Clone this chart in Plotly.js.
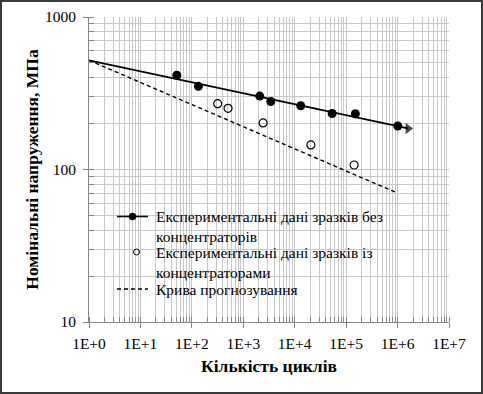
<!DOCTYPE html>
<html>
<head>
<meta charset="utf-8">
<script src="https://cdn.plot.ly/plotly-3.0.1.min.js"></script>
<style>
html,body{margin:0;padding:0;background:#fff;}
#chart{width:479px;height:390px;border:2px solid #3a3a3a;}
</style>
</head>
<body>
<div id="chart"></div>
<script>
// Data
const cyclesPlain = [51, 134, 2090, 3430, 13100, 53500, 151000, 1010000];
const stressPlain = [415, 351, 303, 279, 262, 233, 232, 193];
const cyclesNotch = [318, 506, 2430, 20600, 143000];
const stressNotch = [270, 252, 202, 145, 107];
const fitCycles = [1, 1600000];
const fitStress = [520, 186];
const predCycles = [1, 1000000];
const predStress = [520, 70];
const xTickVals = [1, 10, 100, 1000, 10000, 100000, 1000000, 10000000];
const xTickText = ['1E+0','1E+1','1E+2','1E+3','1E+4','1E+5','1E+6','1E+7'];
const yTickVals = [10, 100, 1000];
const yTickText = ['10', '100', '1000'];
const legendNames = [
  'Експериментальні дані зразків без<br>концентраторів',
  'Експериментальні дані зразків із<br>концентраторами',
  'Крива прогнозування'
];
const xTitle = 'Кількість циклів';
const yTitle = 'Номінальні напруження, МПа';

// minor tick positions (1..9 within each decade)
function minorVals(lo, hi) {
  const v = [];
  for (let e = lo; e < hi; e++) {
    for (let d = 1; d <= 9; d++) v.push(d * Math.pow(10, e));
  }
  v.push(Math.pow(10, hi));
  return v;
}

const FONT = '"Liberation Serif", "Times New Roman", serif';

// page-pixel -> paper helpers for the legend box (plot area 89..449 x 17..322)
const PX0 = 89, PW = 360, PY1 = 322, PH = 305;
const px = X => (X - PX0) / PW;
const py = Y => (PY1 - Y) / PH;

const traces = [
  {x: fitCycles, y: fitStress, mode: 'lines+markers', name: 'fit',
   line: {color: '#000', width: 1.6},
   marker: {symbol: ['circle', 'triangle-right'], size: [0, 10], color: '#000', line: {width: 0}},
   hoverinfo: 'skip'},
  {x: predCycles, y: predStress, mode: 'lines', name: legendNames[2],
   line: {color: '#000', width: 1.4, dash: '4px,3px'}, hoverinfo: 'skip'},
  {x: cyclesPlain, y: stressPlain, mode: 'markers', name: legendNames[0],
   marker: {symbol: 'circle', size: 9, color: '#000'}},
  {x: cyclesNotch, y: stressNotch, mode: 'markers', name: legendNames[1],
   marker: {symbol: 'circle-open', size: 8, color: '#000', line: {width: 1.2}}}
];

const axisCommon = {
  type: 'log', tickmode: 'array',
  showgrid: true, gridcolor: '#c4c4c4', gridwidth: 1,
  showline: true, linecolor: '#858585', linewidth: 1,
  ticks: 'outside', ticklen: 5, tickcolor: '#858585', tickwidth: 1,
  zeroline: false,
  tickfont: {family: FONT, size: 15.5, color: '#000'}
};

const legFont = {family: FONT, size: 15.5, color: '#000'};
const rowY = [216.5, 252, 289];

const layout = {
  width: 479, height: 390,
  margin: {l: 87, r: 32, t: 15, b: 70},
  paper_bgcolor: '#fff', plot_bgcolor: '#fff',
  font: {family: FONT, color: '#000'},
  showlegend: false,
  xaxis: Object.assign({}, axisCommon, {
    range: [0, 7], tickvals: xTickVals, ticktext: xTickText, ticklabelstandoff: 2,
    minor: {tickmode: 'array', tickvals: minorVals(0, 7), ticks: 'inside', ticklen: 5,
            tickcolor: '#858585', showgrid: true, gridcolor: '#c8c8c8', gridwidth: 1},
    title: {text: xTitle, font: {family: FONT, size: 17.5, color: '#000', weight: 'bold'}, standoff: 9}
  }),
  yaxis: Object.assign({}, axisCommon, {
    range: [1, 3], tickvals: yTickVals, ticktext: yTickText, ticklabelstandoff: 4,
    minor: {tickmode: 'array', tickvals: minorVals(1, 3), ticks: 'inside', ticklen: 5,
            tickcolor: '#858585', showgrid: true, gridcolor: '#c8c8c8', gridwidth: 1},
    title: {text: yTitle, font: {family: FONT, size: 17.5, color: '#000', weight: 'bold'}, standoff: 1}
  }),
  annotations: [
    {xref: 'paper', yref: 'paper', x: px(154), y: py((216.5 + 237) / 2), xanchor: 'left', yanchor: 'middle',
     align: 'left', showarrow: false, text: legendNames[0], font: legFont},
    {xref: 'paper', yref: 'paper', x: px(154), y: py((252 + 272) / 2), xanchor: 'left', yanchor: 'middle',
     align: 'left', showarrow: false, text: legendNames[1], font: legFont},
    {xref: 'paper', yref: 'paper', x: px(154), y: py(289), xanchor: 'left', yanchor: 'middle',
     align: 'left', showarrow: false, text: legendNames[2], font: legFont}
  ],
  shapes: [
    {type: 'rect', xref: 'paper', yref: 'paper', layer: 'between',
     x0: px(97), x1: px(410), y0: py(318), y1: py(206),
     fillcolor: '#fff', line: {width: 0}},
    // legend keys
    {type: 'line', xref: 'paper', yref: 'paper', x0: px(117), x1: px(148), y0: py(rowY[0]), y1: py(rowY[0]),
     line: {color: '#000', width: 1.6}},
    {type: 'circle', xref: 'paper', yref: 'paper', xsizemode: 'pixel', ysizemode: 'pixel',
     xanchor: px(132.5), yanchor: py(rowY[0]), x0: -3.5, x1: 3.5, y0: -3.5, y1: 3.5,
     fillcolor: '#000', line: {color: '#000', width: 0.5}},
    {type: 'circle', xref: 'paper', yref: 'paper', xsizemode: 'pixel', ysizemode: 'pixel',
     xanchor: px(136.5), yanchor: py(rowY[1]), x0: -3, x1: 3, y0: -3, y1: 3,
     fillcolor: 'rgba(0,0,0,0)', line: {color: '#000', width: 1}},
    {type: 'line', xref: 'paper', yref: 'paper', x0: px(117), x1: px(148), y0: py(rowY[2]), y1: py(rowY[2]),
     line: {color: '#000', width: 1.4, dash: '4px,3px'}}
  ]
};

Plotly.newPlot('chart', traces, layout, {displayModeBar: false, staticPlot: true});
</script>
</body>
</html>
